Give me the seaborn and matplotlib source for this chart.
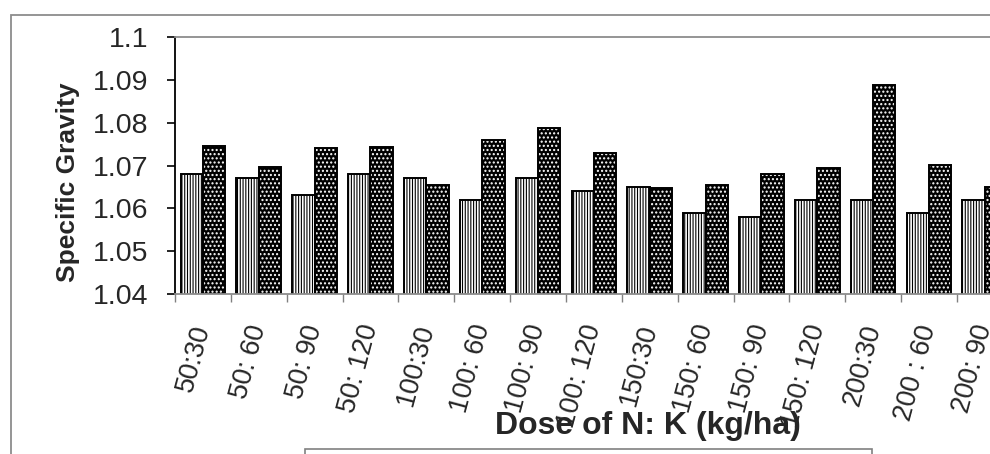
import numpy as np
import pandas as pd
import matplotlib
matplotlib.use("Agg")
import matplotlib.pyplot as plt
import seaborn as sns
from matplotlib.patches import Rectangle

# ---------------- data ----------------
categories = ["50:30", "50: 60", "50: 90", "50: 120", "100:30", "100: 60", "100: 90",
              "100: 120", "150:30", "150: 60", "150: 90", "150: 120", "200:30",
              "200 : 60", "200: 90"]
series_names = ["Series 1", "Series 2"]
values_s1 = [1.068, 1.067, 1.063, 1.068, 1.067, 1.062, 1.067, 1.064, 1.065, 1.059,
             1.058, 1.062, 1.062, 1.059, 1.062]
values_s2 = [1.0746, 1.0696, 1.0742, 1.0743, 1.0654, 1.0760, 1.0788, 1.0730, 1.0648,
             1.0654, 1.0680, 1.0695, 1.0887, 1.0702, 1.0650]
y_ticks = [1.04, 1.05, 1.06, 1.07, 1.08, 1.09, 1.10]
y_tick_labels = ["1.04", "1.05", "1.06", "1.07", "1.08", "1.09", "1.1"]
x_title = "Dose of N: K (kg/ha)"
y_title = "Specific Gravity"

# ---------------- style ----------------
sns.set_theme(style="white")
plt.rcParams['font.family'] = ['Liberation Sans', 'DejaVu Sans']
plt.rcParams['hatch.linewidth'] = 0.9

n = len(categories)
df = pd.DataFrame({
    "dose": categories * 2,
    "series": [series_names[0]] * n + [series_names[1]] * n,
    "sg": values_s1 + values_s2,
})

W, H = 990, 454
fig = plt.figure(figsize=(W / 100, H / 100), dpi=100)
fig.patch.set_facecolor("white")

ax_left, ax_top, ax_bottom, cat_w = 175, 37, 294, 55.85
ax_w = cat_w * n
ax = fig.add_axes([ax_left / W, (H - ax_bottom) / H, ax_w / W, (ax_bottom - ax_top) / H])

sns.barplot(data=df, x="dose", y="sg", hue="series", order=categories,
            hue_order=series_names, palette=["white", "black"], width=0.8,
            dodge=True, legend=False, ax=ax, errorbar=None)

bars = list(ax.patches)
for i, p in enumerate(bars):
    if i < n:
        p.set_facecolor("white")
        p.set_edgecolor("black")
        p.set_hatch("||||||")
        p.set_linewidth(1.4)
        if hasattr(p, "set_hatch_linewidth"):
            p.set_hatch_linewidth(0.8)
    else:
        p.set_facecolor("black")
        p.set_edgecolor("white")
        p.set_hatch("....")
        p.set_linewidth(0)
        if hasattr(p, "set_hatch_linewidth"):
            p.set_hatch_linewidth(1.0)
        ax.add_patch(Rectangle(p.get_xy(), p.get_width(), p.get_height(),
                               fill=False, edgecolor="black", linewidth=1.4,
                               zorder=p.get_zorder() + 0.1))

ax.set_ylim(1.04, 1.10)
ax.set_xlim(-0.5, n - 0.5)
ax.set_yticks(y_ticks)
ax.set_yticklabels(y_tick_labels, fontsize=20.5)
ax.set_xticks(range(n))
ax.set_xticklabels(categories, fontsize=19.5, rotation=75, rotation_mode="anchor",
                   ha="right", va="center")
ax.set_xticks(np.arange(-0.5, n, 1.0), minor=True)

ax.tick_params(axis="y", which="major", direction="out", length=6, width=1.2,
               color="black", pad=13, left=True)
ax.tick_params(axis="x", which="major", length=0, pad=22.5)
ax.tick_params(axis="x", which="minor", direction="out", length=6, width=1.0,
               color="#808080", bottom=True)

ax.spines["left"].set_color("black")
ax.spines["left"].set_linewidth(1.3)
for s in ["bottom", "top"]:
    ax.spines[s].set_color("#8c8c8c")
    ax.spines[s].set_linewidth(1.3)
ax.spines["right"].set_visible(False)

ax.set_ylabel(y_title, fontsize=19, fontweight="bold")
ax.yaxis.set_label_coords((80 - ax_left) / ax_w, (ax_bottom - 182) / (ax_bottom - ax_top))
ax.set_xlabel(x_title, fontsize=23, fontweight="bold")
ax.xaxis.set_label_coords((647.5 - ax_left) / ax_w, (ax_bottom - 411) / (ax_bottom - ax_top))

# legend frame: only its top edge is inside the picture
fig.patches.append(Rectangle((305 / W, -0.5), 567 / W, (H - 449) / H + 0.5,
                             transform=fig.transFigure, fill=False,
                             edgecolor="#808080", linewidth=1.2))

# outer chart-area border
fig.patches.append(Rectangle((11 / W, -0.5), 2.0, (1 - 15 / H) + 0.5,
                             transform=fig.transFigure, fill=False,
                             edgecolor="#8c8c8c", linewidth=1.3))

fig.savefig("out.png", dpi=100)
